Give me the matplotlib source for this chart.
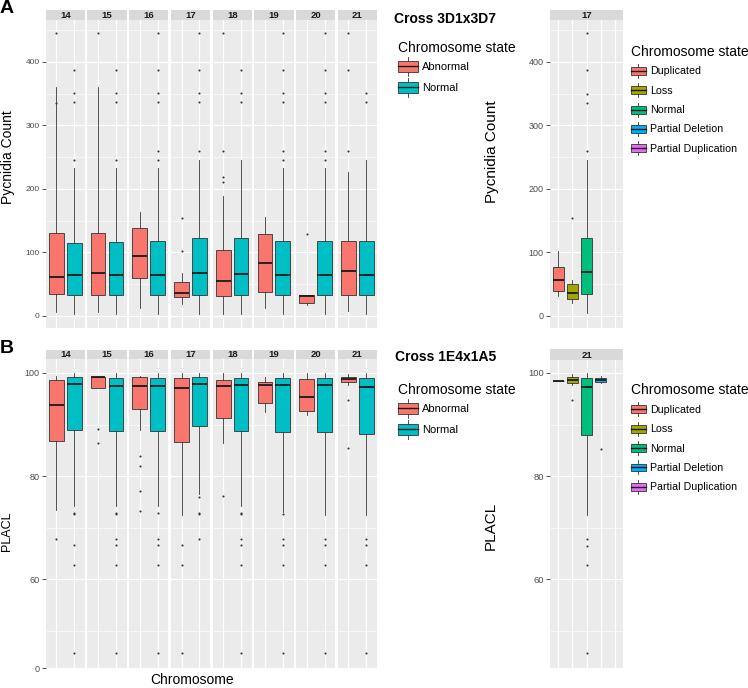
import matplotlib
matplotlib.use("Agg")
import matplotlib.pyplot as plt
import numpy as np
from matplotlib.patches import Patch, Rectangle
from matplotlib.lines import Line2D
from matplotlib.legend_handler import HandlerBase

plt.rcParams["font.family"] = ["Liberation Sans", "DejaVu Sans"]

W, H = 748, 688

chromosomes = ["14", "15", "16", "17", "18", "19", "20", "21"]
states2 = ["Abnormal", "Normal"]
states5 = ["Duplicated", "Loss", "Normal", "Partial Deletion", "Partial Duplication"]
colors2 = ["#F8766D", "#00BFC4"]
colors5 = ["#F8766D", "#A3A500", "#00BF7D", "#00B0F6", "#E76BF3"]

# box stats per chromosome: (whisker low, q1, median, q3, whisker high)
pyc_abnormal = [
    (6, 34, 61, 130, 361), (6, 33, 68, 130, 361), (12, 59, 94, 138, 164),
    (19, 30, 36, 53, 67), (3, 31, 55, 104, 189), (12, 38, 83, 129, 156),
    (17, 20, 32, 33, 33), (7, 33, 70, 118, 227),
]
pyc_abnormal_out = [[336, 446], [446], [], [103, 155], [211, 219, 259, 446], [], [129],
                    [259, 387, 446]]
pyc_normal = [
    (3, 33, 65, 115, 233), (3, 33, 65, 116, 233), (3, 33, 65, 118, 233),
    (3, 33, 68, 122, 246), (3, 33, 66, 122, 246), (3, 33, 65, 118, 233),
    (3, 33, 65, 118, 233), (3, 33, 64, 118, 246),
]
pyc_normal_out = [
    [246, 337, 351, 387], [246, 337, 351, 387], [246, 259, 337, 351, 387, 446],
    [259, 337, 351, 387, 446], [337, 351, 387], [246, 259, 337, 351, 387, 446],
    [246, 259, 337, 351, 387, 446], [337, 351],
]
# chromosome 17, cross 3D1x3D7, by detailed state
pyc17 = [(32, 39, 56, 77, 103), (21, 26, 36, 51, 56), (4, 34, 69, 122, 246)]
pyc17_out = [[], [155], [259, 336, 350, 387, 445]]

placl_abnormal = [
    (73.5, 86.9, 93.7, 98.6, 99.5), (97.0, 97.0, 99.2, 99.3, 99.5),
    (89.0, 93.1, 97.4, 99.2, 99.4), (72.5, 86.6, 97.0, 99.0, 100),
    (86.5, 91.3, 97.4, 98.6, 100), (92.4, 94.2, 97.7, 98.3, 99.2),
    (91.8, 92.6, 95.3, 98.8, 100), (97.7, 98.3, 98.9, 99.2, 99.7),
]
placl_abnormal_out = [[67.8], [89.1, 86.4], [84.0, 81.9, 77.2, 73.3], [66.6, 62.8, 10],
                      [76.2], [], [], [94.7, 85.4]]
placl_normal = [
    (74.3, 89.0, 97.9, 99.2, 100), (74.3, 88.7, 97.5, 99.0, 100),
    (74.3, 88.7, 97.5, 99.0, 100), (76.5, 89.8, 97.9, 99.2, 100),
    (74.3, 88.7, 97.7, 99.0, 100), (73.0, 88.5, 97.6, 99.0, 100),
    (72.5, 88.5, 97.7, 99.0, 100), (72.5, 88.2, 97.3, 99.0, 100),
]
placl_normal_out = [
    [72.9, 72.7, 66.6, 62.8, 10], [72.9, 72.7, 67.8, 66.6, 62.8, 10],
    [72.9, 67.8, 66.6, 62.8, 10], [75.9, 72.9, 72.7, 67.8],
    [72.9, 72.7, 67.8, 66.6, 62.8, 10], [72.7, 67.8, 66.6, 62.8, 10],
    [67.8, 66.6, 62.8, 10], [67.8, 66.6, 62.8, 10],
]
# chromosome 21, cross 1E4x1A5, by detailed state
placl21 = [(98.5, 98.5, 98.5, 98.5, 98.5), (97.6, 98.0, 98.6, 99.3, 99.8),
           (72.5, 88.0, 97.2, 99.1, 99.9), (98.1, 98.2, 98.6, 99.1, 99.4)]
placl21_out = [[], [94.8], [67.8, 66.5, 62.7, 10], [85.3]]

EDGE = "#333333"
PANEL_BG = "#EBEBEB"
STRIP_BG = "#D9D9D9"

# PLACL axis is compressed below 60
K = 0.286


def fwd(y):
    y = np.asarray(y, float)
    return np.where(y >= 60, y, 60 - (60 - y) * K)


def inv(t):
    t = np.asarray(t, float)
    return np.where(t >= 60, t, 60 - (60 - t) / K)


def px_axes(fig, x0, y0, x1, y1):
    return fig.add_axes([x0 / W, 1 - y1 / H, (x1 - x0) / W, (y1 - y0) / H])


def stats(rows, outs, labels):
    return [dict(whislo=r[0], q1=r[1], med=r[2], q3=r[3], whishi=r[4], fliers=o, label=l)
            for r, o, l in zip(rows, outs, labels)]


def draw_boxes(ax, st, colors, positions, width):
    b = ax.bxp(st, positions=positions, widths=width, patch_artist=True, showcaps=False,
               boxprops=dict(edgecolor=EDGE, linewidth=0.6),
               whiskerprops=dict(color=EDGE, linewidth=0.6),
               medianprops=dict(color="#1A1A1A", linewidth=1.3),
               flierprops=dict(marker="o", markersize=1.5, markerfacecolor=EDGE,
                               markeredgecolor="none"))
    for patch, c in zip(b["boxes"], colors):
        patch.set_facecolor(c)


def style_panel(ax, ncat, yticks, yminor, labels, tick_fs):
    ax.set_facecolor(PANEL_BG)
    for s in ax.spines.values():
        s.set_visible(False)
    ax.set_xlim(0.4, ncat + 0.6)
    ax.set_xticks(np.arange(1, ncat + 1))
    ax.set_yticks(yticks)
    ax.set_yticks(yminor, minor=True)
    ax.grid(True, which="major", color="white", linewidth=0.9)
    ax.grid(True, which="minor", axis="y", color="white", linewidth=0.45)
    ax.set_axisbelow(True)
    ax.tick_params(axis="x", length=0, labelbottom=False)
    ax.tick_params(axis="y", which="minor", length=0)
    ax.tick_params(axis="y", which="major", length=3, width=0.6, color=EDGE, pad=1.5,
                   labelsize=tick_fs, labelcolor="#4D4D4D")
    if labels:
        ax.set_yticklabels(labels)
    else:
        ax.tick_params(axis="y", length=0, labelleft=False)


def strip(fig, x0, y0, x1, y1, text):
    s = px_axes(fig, x0, y0, x1, y1)
    s.set_facecolor(STRIP_BG)
    s.set_xticks([])
    s.set_yticks([])
    for sp in s.spines.values():
        sp.set_visible(False)
    s.text(0.5, 0.45, text, ha="center", va="center", fontsize=6.8, fontweight="bold",
           color="#1A1A1A", transform=s.transAxes)


class BoxKey(HandlerBase):
    def create_artists(self, legend, orig_handle, xdescent, ydescent, width, height,
                       fontsize, trans):
        x0, y0 = -xdescent, -ydescent
        fc = orig_handle.get_facecolor()
        r = Rectangle((x0, y0 + 0.22 * height), width, 0.56 * height, facecolor=fc,
                      edgecolor=EDGE, linewidth=0.6, transform=trans)
        cx = x0 + width / 2
        w1 = Line2D([cx, cx], [y0, y0 + 0.22 * height], color=EDGE, lw=0.6, transform=trans)
        w2 = Line2D([cx, cx], [y0 + 0.78 * height, y0 + height], color=EDGE, lw=0.6,
                    transform=trans)
        m = Line2D([x0, x0 + width], [y0 + height / 2] * 2, color="#1A1A1A", lw=1.0,
                   transform=trans)
        return [r, w1, w2, m]


def legend(fig, x, y, labels, colors, fs, hl, hh, ls):
    handles = [Patch(facecolor=c, label=l) for l, c in zip(labels, colors)]
    lg = fig.legend(handles=handles, loc="upper left", bbox_to_anchor=(x / W, 1 - y / H),
                    frameon=False, borderpad=0, borderaxespad=0, fontsize=fs,
                    title="Chromosome state", title_fontsize=10, alignment="left",
                    handlelength=hl, handleheight=hh, labelspacing=ls, handletextpad=0.35,
                    handler_map={Patch: BoxKey()})
    return lg


fig = plt.figure(figsize=(W / 100, H / 100), dpi=100)

fx0, fw, fg = 45.7, 39.35, 2.35

# ---- A: Pycnidia count, cross 3D1x3D7 ----
for i, ch in enumerate(chromosomes):
    x0 = fx0 + i * (fw + fg)
    ax = px_axes(fig, x0, 20, x0 + fw, 328)
    st = stats([pyc_abnormal[i], pyc_normal[i]], [pyc_abnormal_out[i], pyc_normal_out[i]],
               states2)
    draw_boxes(ax, st, colors2, [1, 2], 0.82)
    ax.set_ylim(-19, 466)
    style_panel(ax, 2, [0, 100, 200, 300, 400], [50, 150, 250, 350, 450],
                ["0", "100", "200", "300", "400"] if i == 0 else None, 6)
    strip(fig, x0, 10, x0 + fw, 20, ch)

ax = px_axes(fig, 550, 20, 623, 328)
draw_boxes(ax, stats(pyc17, pyc17_out, states5[:3]), colors5, [1, 2, 3], 0.75)
ax.set_ylim(-19, 466)
style_panel(ax, 5, [0, 100, 200, 300, 400], [50, 150, 250, 350, 450],
            ["0", "100", "200", "300", "400"], 6.5)
strip(fig, 550, 10, 623, 20, "17")

# ---- B: PLACL, cross 1E4x1A5 ----
for i, ch in enumerate(chromosomes):
    x0 = fx0 + i * (fw + fg)
    ax = px_axes(fig, x0, 359, x0 + fw, 668)
    ax.set_yscale("function", functions=(fwd, inv))
    st = stats([placl_abnormal[i], placl_normal[i]],
               [placl_abnormal_out[i], placl_normal_out[i]], states2)
    draw_boxes(ax, st, colors2, [1, 2], 0.82)
    ax.set_ylim(0, 102.7)
    style_panel(ax, 2, [0, 60, 80, 100], [25, 70, 90],
                ["0", "60", "80", "100"] if i == 0 else None, 6.5)
    strip(fig, x0, 350, x0 + fw, 359, ch)

ax = px_axes(fig, 550, 360, 623, 668)
ax.set_yscale("function", functions=(fwd, inv))
draw_boxes(ax, stats(placl21, placl21_out, states5[:4]), colors5, [1, 2, 3, 4], 0.75)
ax.set_ylim(0, 102.5)
style_panel(ax, 5, [60, 80, 100], [25, 70, 90], ["60", "80", "100"], 6.8)
strip(fig, 550, 349, 623, 360, "21")

# ---- texts ----
fig.text(0 / W, 1 - 0 / H, "A", fontsize=14, fontweight="bold", ha="left", va="top")
fig.text(0 / W, 1 - 340 / H, "B", fontsize=14, fontweight="bold", ha="left", va="top")
fig.text(394 / W, 1 - 19 / H, "Cross 3D1x3D7", fontsize=10, fontweight="bold", va="center")
fig.text(395 / W, 1 - 357 / H, "Cross 1E4x1A5", fontsize=10, fontweight="bold", va="center")
fig.text(8 / W, 1 - 157 / H, "Pycnidia Count", fontsize=10, rotation=90, ha="center",
         va="center")
fig.text(492 / W, 1 - 152 / H, "Pycnidia Count", fontsize=11, rotation=90, ha="center",
         va="center")
fig.text(7 / W, 1 - 531 / H, "PLACL", fontsize=9, rotation=90, ha="center", va="center")
fig.text(491 / W, 1 - 526 / H, "PLACL", fontsize=11, rotation=90, ha="center", va="center")
fig.text(192 / W, 1 - 680 / H, "Chromosome", fontsize=10, ha="center", va="center")

legend(fig, 398, 41, states2, colors2, 8, 1.8, 2.25, 0.18)
legend(fig, 631, 44.5, states5, colors5, 7.7, 1.4, 1.64, 0.5)
legend(fig, 398, 383, states2, colors2, 8, 1.8, 2.25, 0.18)
legend(fig, 631, 383, states5, colors5, 7.7, 1.4, 1.64, 0.5)

fig.savefig("out.png", dpi=100)
